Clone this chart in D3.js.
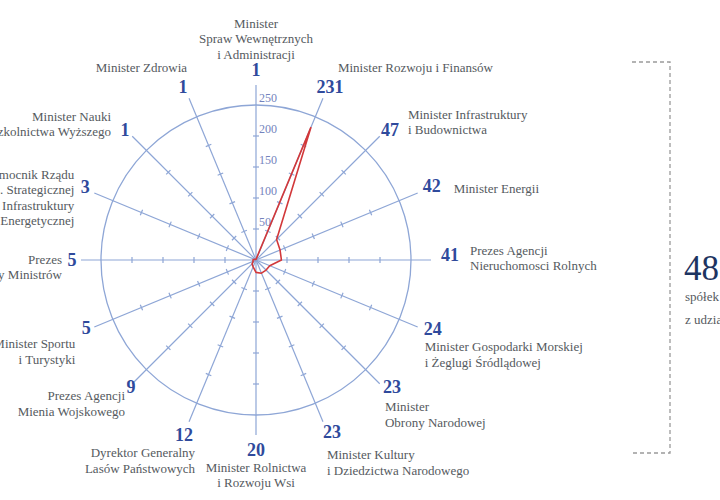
<!DOCTYPE html>
<html>
<head>
<meta charset="utf-8">
<script src="https://cdn.jsdelivr.net/npm/d3@7"></script>
<style>
  body { margin: 0; background: #fff; }
  svg { display: block; font-family: "Liberation Serif", "DejaVu Serif", serif; }
</style>
</head>
<body>
<svg id="chart" width="720" height="500"></svg>
<script>
// categories (label lines) clockwise from the top
var categories = [
  ["Minister", "Spraw Wewnętrznych", "i Administracji"],
  ["Minister Rozwoju i Finansów"],
  ["Minister Infrastruktury", "i Budownictwa"],
  ["Minister Energii"],
  ["Prezes Agencji", "Nieruchomosci Rolnych"],
  ["Minister Gospodarki Morskiej", "i Żeglugi Śródlądowej"],
  ["Minister", "Obrony Narodowej"],
  ["Minister Kultury", "i Dziedzictwa Narodowego"],
  ["Minister Rolnictwa", "i Rozwoju Wsi"],
  ["Dyrektor Generalny", "Lasów Państwowych"],
  ["Prezes Agencji", "Mienia Wojskowego"],
  ["Minister Sportu", "i Turystyki"],
  ["Prezes", "Rady Ministrów"],
  ["Pełnomocnik Rządu", "ds. Strategicznej", "Infrastruktury", "Energetycznej"],
  ["Minister Nauki", "i Szkolnictwa Wyższego"],
  ["Minister Zdrowia"]
];
var values = [1, 231, 47, 42, 41, 24, 23, 23, 20, 12, 9, 5, 5, 3, 1, 1];
var radialTicks = [50, 100, 150, 200, 250];
var totalValue = "48";
var totalLines = ["spółek", "z udziałem"];

// label layout: number nudge (nx, ny), label offset from number (lx, ly), anchor
var labelLayout = [
  {nx: 0,  ny: -2, lx: 0,   ly: -47, a: "middle"},
  {nx: 2,  ny: 0,  lx: 8,   ly: -19, a: "start"},
  {nx: 1,  ny: 3,  lx: 18,  ly: -16, a: "start"},
  {nx: 2,  ny: -2, lx: 22,  ly: 2,   a: "start"},
  {nx: 6,  ny: -5, lx: 20,  ly: -5,  a: "start"},
  {nx: 3,  ny: -3, lx: -8,  ly: 18,  a: "start"},
  {nx: 3,  ny: -6, lx: -7,  ly: 20,  a: "start"},
  {nx: 4,  ny: -2, lx: -5,  ly: 23,  a: "start"},
  {nx: 0,  ny: 2,  lx: 0,   ly: 17,  a: "middle"},
  {nx: 0,  ny: 1,  lx: 11,  ly: 18,  a: "end"},
  {nx: 8,  ny: -6, lx: -6,  ly: 9,   a: "end"},
  {nx: 4,  ny: -4, lx: -11, ly: 16,  a: "end"},
  {nx: 4,  ny: 0,  lx: -10, ly: -1,  a: "end"},
  {nx: 3,  ny: -1, lx: -11, ly: -13, a: "end"},
  {nx: 2,  ny: 3,  lx: -14, ly: -14, a: "end"},
  {nx: -1, ny: 0,  lx: 4,   ly: -19, a: "end"}
];

var svg = d3.select("#chart");
var cx = 256, cy = 260;
var axisColor = "#8ea6d6";
var n = values.length;

var r = d3.scaleLinear().domain([0, 250]).range([0, 155]);
var angle = d3.scaleLinear().domain([0, n]).range([0, 2 * Math.PI]);
var axisMax = r.invert(175);
var numberR = r.invert(188);

function pt(i, v) {
  var a = angle(i);
  return [cx + r(v) * Math.sin(a), cy - r(v) * Math.cos(a)];
}

var g = svg.append("g");

// outer circle at 250
g.append("circle")
  .attr("cx", cx).attr("cy", cy).attr("r", r(250))
  .attr("fill", "none").attr("stroke", axisColor).attr("stroke-width", 1.3);

// spokes
var idx = d3.range(n);
g.selectAll("line.spoke").data(idx).join("line")
  .attr("class", "spoke")
  .attr("x1", cx).attr("y1", cy)
  .attr("x2", i => pt(i, axisMax)[0])
  .attr("y2", i => pt(i, axisMax)[1])
  .attr("stroke", axisColor).attr("stroke-width", 1.2);

// tick marks on every spoke
var tickPairs = [];
idx.forEach(i => radialTicks.slice(0, 4).forEach(t => tickPairs.push({i: i, t: t})));
g.selectAll("line.tick").data(tickPairs).join("line")
  .attr("class", "tick")
  .attr("x1", d => pt(d.i, d.t)[0] - 3 * Math.cos(angle(d.i)))
  .attr("y1", d => pt(d.i, d.t)[1] - 3 * Math.sin(angle(d.i)))
  .attr("x2", d => pt(d.i, d.t)[0] + 3 * Math.cos(angle(d.i)))
  .attr("y2", d => pt(d.i, d.t)[1] + 3 * Math.sin(angle(d.i)))
  .attr("stroke", axisColor).attr("stroke-width", 1.2);

// tick labels along the top spoke
g.selectAll("text.rt").data(radialTicks).join("text")
  .attr("class", "rt")
  .attr("x", cx + 3)
  .attr("y", d => cy - r(d) - 3)
  .attr("fill", "#7483bd")
  .attr("font-size", 12)
  .text(d => d);

// data polygon
var line = d3.line().curve(d3.curveLinearClosed);
g.append("path")
  .attr("d", line(values.map((v, i) => pt(i, v))))
  .attr("fill", "none")
  .attr("stroke", "#d2383a")
  .attr("stroke-width", 1.6)
  .attr("stroke-linejoin", "round");

// value numbers and category labels
var lab = g.selectAll("g.lab").data(idx).join("g")
  .attr("class", "lab")
  .attr("transform", i => {
    var p = pt(i, numberR);
    return "translate(" + (p[0] + labelLayout[i].nx) + "," + (p[1] + labelLayout[i].ny) + ")";
  });

lab.append("text")
  .attr("text-anchor", "middle")
  .attr("dy", "0.35em")
  .attr("font-size", 18)
  .attr("font-weight", "bold")
  .attr("fill", "#2f4a9c")
  .text(i => values[i]);

lab.append("text")
  .attr("text-anchor", i => labelLayout[i].a)
  .attr("font-size", 13)
  .attr("fill", "#555a60")
  .selectAll("tspan")
  .data(i => categories[i].map((s, k) => ({s: s, k: k, i: i})))
  .join("tspan")
  .attr("x", d => labelLayout[d.i].lx)
  .attr("y", d => labelLayout[d.i].ly + d.k * 15.5 + 4.5)
  .text(d => d.s);

// dashed bracket on the right
svg.append("path")
  .attr("d", "M632,62 H670 V453 H632")
  .attr("fill", "none")
  .attr("stroke", "#9a9a9a")
  .attr("stroke-width", 1.3)
  .attr("stroke-dasharray", "4,3");

svg.append("text")
  .attr("x", 684).attr("y", 280)
  .attr("font-size", 35)
  .attr("fill", "#1d3461")
  .text(totalValue);

svg.append("g").selectAll("text").data(totalLines).join("text")
  .attr("x", 685)
  .attr("y", (d, k) => 301 + k * 23)
  .attr("font-size", 13)
  .attr("fill", "#555a60")
  .text(d => d);
</script>
</body>
</html>
